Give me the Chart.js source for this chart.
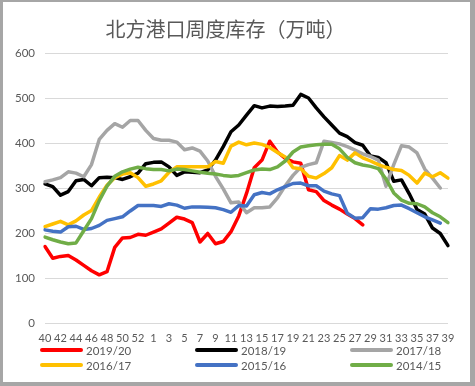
<!DOCTYPE html>
<html>
<head>
<meta charset="utf-8">
<script src="https://cdn.jsdelivr.net/npm/chart.js@4.4.1/dist/chart.umd.min.js"></script>
<style>
  html, body { margin: 0; padding: 0; background: #a6a6a6; }
  #marco { position: absolute; left: 3px; top: 2px; width: 467px; height: 380px; background: #fff; }
</style>
</head>
<body>
<div id="marco"><canvas id="grafico"></canvas></div>
<script>
// semanas del año comercial (40 -> 53 y luego 1 -> 39)
const semanas = ['40','41','42','43','44','45','46','47','48','49','50','51','52','53',
  '1','2','3','4','5','6','7','8','9','10','11','12','13','14','15','16','17','18','19','20',
  '21','22','23','24','25','26','27','28','29','30','31','32','33','34','35','36','37','38','39'];

// inventario semanal, 万吨
const s2019_20 = [170,144,148,150,140,128,116,107,114,168,189,190,197,195,202,209,222,235,231,223,
  180,199,176,181,203,238,288,345,362,404,380,366,358,355,296,292,272,262,253,242,232,218,
  null,null,null,null,null,null,null,null,null,null,null];
const s2018_19 = [309,303,284,292,316,319,305,323,324,323,319,325,333,354,357,358,347,328,336,335,
  334,340,362,392,425,440,462,483,478,482,481,482,484,508,500,478,458,440,422,414,401,395,371,368,
  356,315,318,287,252,242,211,199,172];
const s2017_18 = [314,318,323,336,333,325,352,408,428,443,435,450,450,428,410,406,406,402,385,389,
  382,360,326,298,267,269,245,256,256,258,278,305,328,346,352,356,404,401,398,392,384,376,370,362,
  304,352,394,391,378,342,322,300,null];
const s2016_17 = [214,220,226,218,227,240,250,280,306,323,331,334,323,304,309,316,335,347,347,347,
  347,347,359,355,393,402,396,400,397,390,379,369,345,343,326,322,332,345,372,362,378,367,360,352,
  346,341,339,328,311,333,325,334,322];
const s2015_16 = [207,204,202,214,215,208,210,217,228,232,236,249,261,261,261,259,265,262,255,258,
  258,257,256,252,246,261,260,285,290,287,296,303,310,311,305,305,293,287,283,244,233,234,254,253,
  256,261,262,254,245,236,229,222,null];
const s2014_15 = [191,185,180,176,178,205,232,272,304,326,336,342,346,343,341,341,338,342,341,338,
  335,333,331,328,326,328,334,340,342,341,347,360,380,391,394,396,397,397,387,368,356,351,348,343,
  320,289,273,266,265,258,245,236,223];

const temporadas = ['2019/20','2018/19','2017/18','2016/17','2015/16','2014/15'];
const colores = ['#ff0000','#000000','#a5a5a5','#ffc000','#4472c4','#70ad47'];
const series = [s2019_20, s2018_19, s2017_18, s2016_17, s2015_16, s2014_15];

const gris = '#595959';

// leyenda tipo Excel: 3 columnas, 2 filas
const leyendaExcel = {
  id: 'leyendaExcel',
  afterDraw(chart) {
    const ctx = chart.ctx;
    const area = chart.chartArea;
    ctx.save();
    ctx.font = '11.5px Lato';
    ctx.fillStyle = gris;
    ctx.textBaseline = 'middle';
    chart.data.datasets.forEach((ds, i) => {
      let x = area.left - 5 + (i % 3) * 155;
      let y = area.bottom + 27 + Math.floor(i / 3) * 15;
      ctx.strokeStyle = ds.borderColor;
      ctx.lineWidth = 4;
      ctx.lineCap = 'round';
      ctx.beginPath();
      ctx.moveTo(x + 2, y);
      ctx.lineTo(x + 41, y);
      ctx.stroke();
      ctx.fillText(ds.label, x + 46, y + 1);
    });
    ctx.restore();
  }
};

new Chart(document.getElementById('grafico'), {
  type: 'line',
  data: {
    labels: semanas,
    datasets: series.map((datos, i) => ({
      label: temporadas[i],
      data: datos,
      borderColor: colores[i],
      backgroundColor: colores[i],
      borderWidth: 3.5,
      borderJoinStyle: 'round',
      borderCapStyle: 'round',
      pointRadius: 0,
      tension: 0,
      order: series.length - i
    }))
  },
  options: {
    responsive: true,
    maintainAspectRatio: false,
    animation: false,
    layout: { padding: { left: 0, right: 22, top: 0, bottom: 33 } },
    plugins: {
      legend: { display: false },
      tooltip: { enabled: false },
      title: {
        display: true,
        text: '北方港口周度库存（万吨）',
        color: gris,
        font: { family: '"Noto Sans CJK SC"', size: 20, weight: 'normal', lineHeight: 1.2 },
        padding: { top: 15, bottom: 12 }
      }
    },
    scales: {
      x: {
        grid: { display: false, drawTicks: false },
        border: { display: false },
        afterFit: (scale) => { scale.height = 26; },
        ticks: {
          color: gris,
          font: { family: 'Lato', size: 11 },
          autoSkip: false,
          maxRotation: 0,
          minRotation: 0,
          padding: 9,
          callback: function (val, index) {
            return index % 2 === 0 ? semanas[index] : '';
          }
        }
      },
      y: {
        min: 0,
        max: 600,
        afterFit: (scale) => { scale.width = 42; },
        grid: { color: '#d9d9d9', lineWidth: 1, drawTicks: false },
        border: { display: false },
        ticks: {
          stepSize: 100,
          color: gris,
          font: { family: 'Lato', size: 11.5 },
          padding: 10
        }
      }
    }
  },
  plugins: [leyendaExcel]
});
</script>
</body>
</html>
